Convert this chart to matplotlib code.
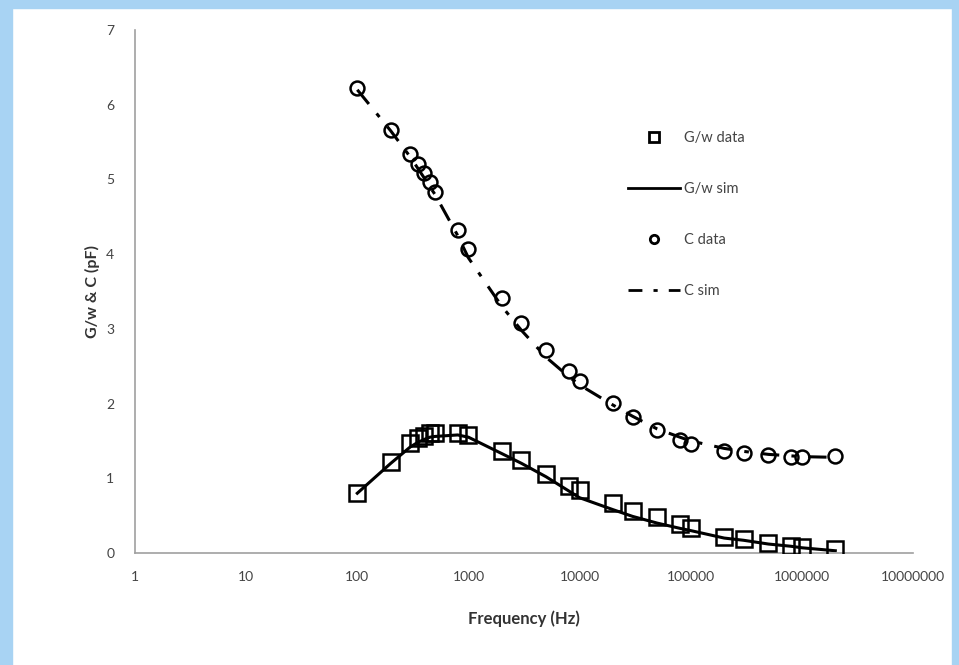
import matplotlib.pyplot as plt
from matplotlib.patches import Rectangle
from matplotlib.lines import Line2D

# frequencies (Hz) of the measured points
freq = [100, 200, 300, 350, 400, 450, 500, 800, 1000, 2000, 3000, 5000, 8000,
        10000, 20000, 30000, 50000, 80000, 100000, 200000, 300000, 500000,
        800000, 1000000, 2000000]

# G/w data (pF)
g_data = [0.80, 1.22, 1.47, 1.54, 1.57, 1.61, 1.61, 1.61, 1.58, 1.37, 1.25,
          1.06, 0.90, 0.84, 0.67, 0.56, 0.48, 0.39, 0.33, 0.21, 0.19, 0.13,
          0.09, 0.08, 0.05]
# G/w simulation
g_sim = [0.80, 1.20, 1.42, 1.48, 1.52, 1.55, 1.56, 1.58, 1.55, 1.33, 1.20,
         1.02, 0.83, 0.74, 0.58, 0.49, 0.40, 0.33, 0.30, 0.20, 0.17, 0.12,
         0.09, 0.07, 0.03]

# C data (pF)
c_data = [6.22, 5.66, 5.34, 5.21, 5.09, 4.97, 4.83, 4.32, 4.07, 3.41, 3.08,
          2.72, 2.44, 2.30, 2.01, 1.82, 1.65, 1.51, 1.46, 1.37, 1.34, 1.31,
          1.29, 1.29, 1.30]
# C simulation
c_sim = [6.20, 5.65, 5.30, 5.15, 5.02, 4.90, 4.80, 4.25, 3.95, 3.30, 2.98,
         2.62, 2.36, 2.25, 1.98, 1.83, 1.66, 1.55, 1.50, 1.40, 1.36, 1.32,
         1.30, 1.29, 1.28]

x_ticks = [1, 10, 100, 1000, 10000, 100000, 1000000, 10000000]
y_ticks = [0, 1, 2, 3, 4, 5, 6, 7]

plt.rcParams['font.family'] = ['Lato', 'DejaVu Sans']

fig = plt.figure(figsize=(9.59, 6.65), dpi=100)

# light blue frame around the picture
blue = '#a8d3f3'
fig.patches.append(Rectangle((0, 0), 12 / 959, 1, transform=fig.transFigure,
                             color=blue, zorder=0))
fig.patches.append(Rectangle((0, 1 - 8 / 665), 1, 8 / 665,
                             transform=fig.transFigure, color=blue, zorder=0))
fig.patches.append(Rectangle((1 - 7 / 959, 0), 7 / 959, 1,
                             transform=fig.transFigure, color=blue, zorder=0))

ax = fig.add_axes([135 / 959, 1 - 553 / 665, 778 / 959, 523 / 665])

ax.plot(freq, g_sim, color='black', lw=2.2, zorder=2)
ax.plot(freq, c_sim, color='black', lw=2.2, dashes=(6, 4, 1.5, 4), zorder=2)
ax.plot(freq, g_data, ls='none', marker='s', ms=11, mfc='none', mec='black',
        mew=1.8, zorder=3)
ax.plot(freq, c_data, ls='none', marker='o', ms=10, mfc='none', mec='black',
        mew=1.8, zorder=3)

ax.set_xscale('log')
ax.set_xlim(1, 10000000)
ax.set_ylim(0, 7)
ax.set_xticks(x_ticks)
ax.set_xticklabels([str(t) for t in x_ticks])
ax.set_yticks(y_ticks)
ax.minorticks_off()
ax.tick_params(length=0, labelsize=10, labelcolor='#444444')
ax.tick_params(axis='y', pad=15)
ax.tick_params(axis='x', pad=13)

for side in ['top', 'right']:
    ax.spines[side].set_visible(False)
for side in ['left', 'bottom']:
    ax.spines[side].set_color('#a0a0a0')
    ax.spines[side].set_linewidth(1.2)

ax.set_xlabel('Frequency (Hz)', fontsize=12, fontweight='bold',
              color='#333333', labelpad=20)
ax.set_ylabel('G/w & C (pF)', fontsize=11.5, fontweight='bold',
              color='#333333', labelpad=4)

handles = [
    Line2D([], [], ls='none', marker='s', ms=7, mfc='none', mec='black', mew=2),
    Line2D([], [], color='black', lw=2),
    Line2D([], [], ls='none', marker='o', ms=6, mfc='none', mec='black', mew=2),
    Line2D([], [], color='black', lw=2, dashes=(5, 4, 1.5, 4)),
]
labels = ['G/w data', 'G/w sim', 'C data', 'C sim']
ax.legend(handles, labels, loc='center left', bbox_to_anchor=(0.634, 0.647),
          frameon=False, fontsize=10.5, labelspacing=2.55, handlelength=3.55,
          handletextpad=0.25, borderpad=0, borderaxespad=0,
          labelcolor='#444444')

fig.savefig('out.png', dpi=100)
